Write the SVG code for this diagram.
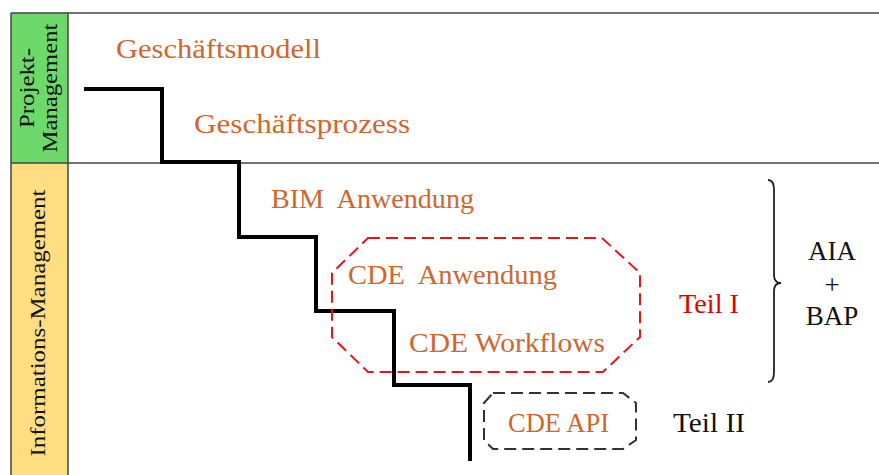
<svg xmlns="http://www.w3.org/2000/svg" width="879" height="475" viewBox="0 0 879 475">
<style>
.o{font-family:"Liberation Serif","Times New Roman",serif;font-size:28px;fill:#D0662E}
.k{font-family:"Liberation Serif","Times New Roman",serif;font-size:27px;fill:#111}
.v{font-family:"Liberation Serif","Times New Roman",serif;font-size:22px;fill:#111}
.frame{stroke:#444;stroke-width:1.5;fill:none}
</style>
<rect width="879" height="475" fill="#fff"/>
<g id="lanes">
<rect x="11" y="13" width="57" height="150" fill="#6CD96A"/>
<rect x="11" y="163" width="57" height="312" fill="#FFDE82"/>
<path class="frame" d="M11 13 H879 M11 13 V475 M68 13 V475 M11 163 H879"/>
<text class="v" transform="translate(34,88) rotate(-90)" text-anchor="middle" textLength="80" lengthAdjust="spacingAndGlyphs">Projekt-</text>
<text class="v" transform="translate(57,88) rotate(-90)" text-anchor="middle" textLength="129" lengthAdjust="spacingAndGlyphs">Management</text>
<text class="v" transform="translate(45,323) rotate(-90)" text-anchor="middle" textLength="267" lengthAdjust="spacingAndGlyphs">Informations-Management</text>
</g>
<g id="connectors">
<path d="M84 89 H162 V162 H239 V237 H316 V311 H394 V385 H470 V461" fill="none" stroke="#000" stroke-width="4" stroke-linejoin="miter"/>
</g>
<g id="n-geschaeftsmodell"><text class="o" x="116" y="58" textLength="205" lengthAdjust="spacingAndGlyphs">Geschäftsmodell</text></g>
<g id="n-geschaeftsprozess"><text class="o" x="194" y="133" textLength="216" lengthAdjust="spacingAndGlyphs">Geschäftsprozess</text></g>
<g id="n-bim"><text class="o" x="271" y="208" textLength="203" lengthAdjust="spacingAndGlyphs" xml:space="preserve">BIM  Anwendung</text></g>
<g id="teil1">
<path d="M368 238 H602 L640 273 V337 L603 372 H368 L332 337 V273 Z" fill="none" stroke="#E8141B" stroke-width="2" stroke-dasharray="12 6"/>
<text x="679" y="313" style="font-family:'Liberation Serif','Times New Roman',serif;font-size:28px;fill:#E00000" textLength="60" lengthAdjust="spacingAndGlyphs">Teil I</text>
</g>
<g id="n-cde-anwendung"><text class="o" x="348" y="284" textLength="209" lengthAdjust="spacingAndGlyphs" xml:space="preserve">CDE  Anwendung</text></g>
<g id="n-cde-workflows"><text class="o" x="409" y="352" textLength="196" lengthAdjust="spacingAndGlyphs">CDE Workflows</text></g>
<g id="n-cde-api">
<path d="M493 393 H623 L636 403 V440 L623 449 H493 L484 440 V403 Z" fill="none" stroke="#333" stroke-width="2" stroke-dasharray="12 6"/>
<text class="o" x="508" y="432" textLength="101" lengthAdjust="spacingAndGlyphs">CDE API</text>
<text class="k" x="673" y="432" textLength="72" lengthAdjust="spacingAndGlyphs">Teil II</text>
</g>
<g id="brace">
<path d="M768 180 Q774 180 774 190 V275 Q774 283 781 283 Q774 283 774 291 V372 Q774 382 768 382" fill="none" stroke="#222" stroke-width="1.8"/>
<text class="k" x="832" y="260" text-anchor="middle">AIA</text>
<text class="k" x="832" y="294" text-anchor="middle">+</text>
<text class="k" x="832" y="325" text-anchor="middle">BAP</text>
</g>
</svg>
